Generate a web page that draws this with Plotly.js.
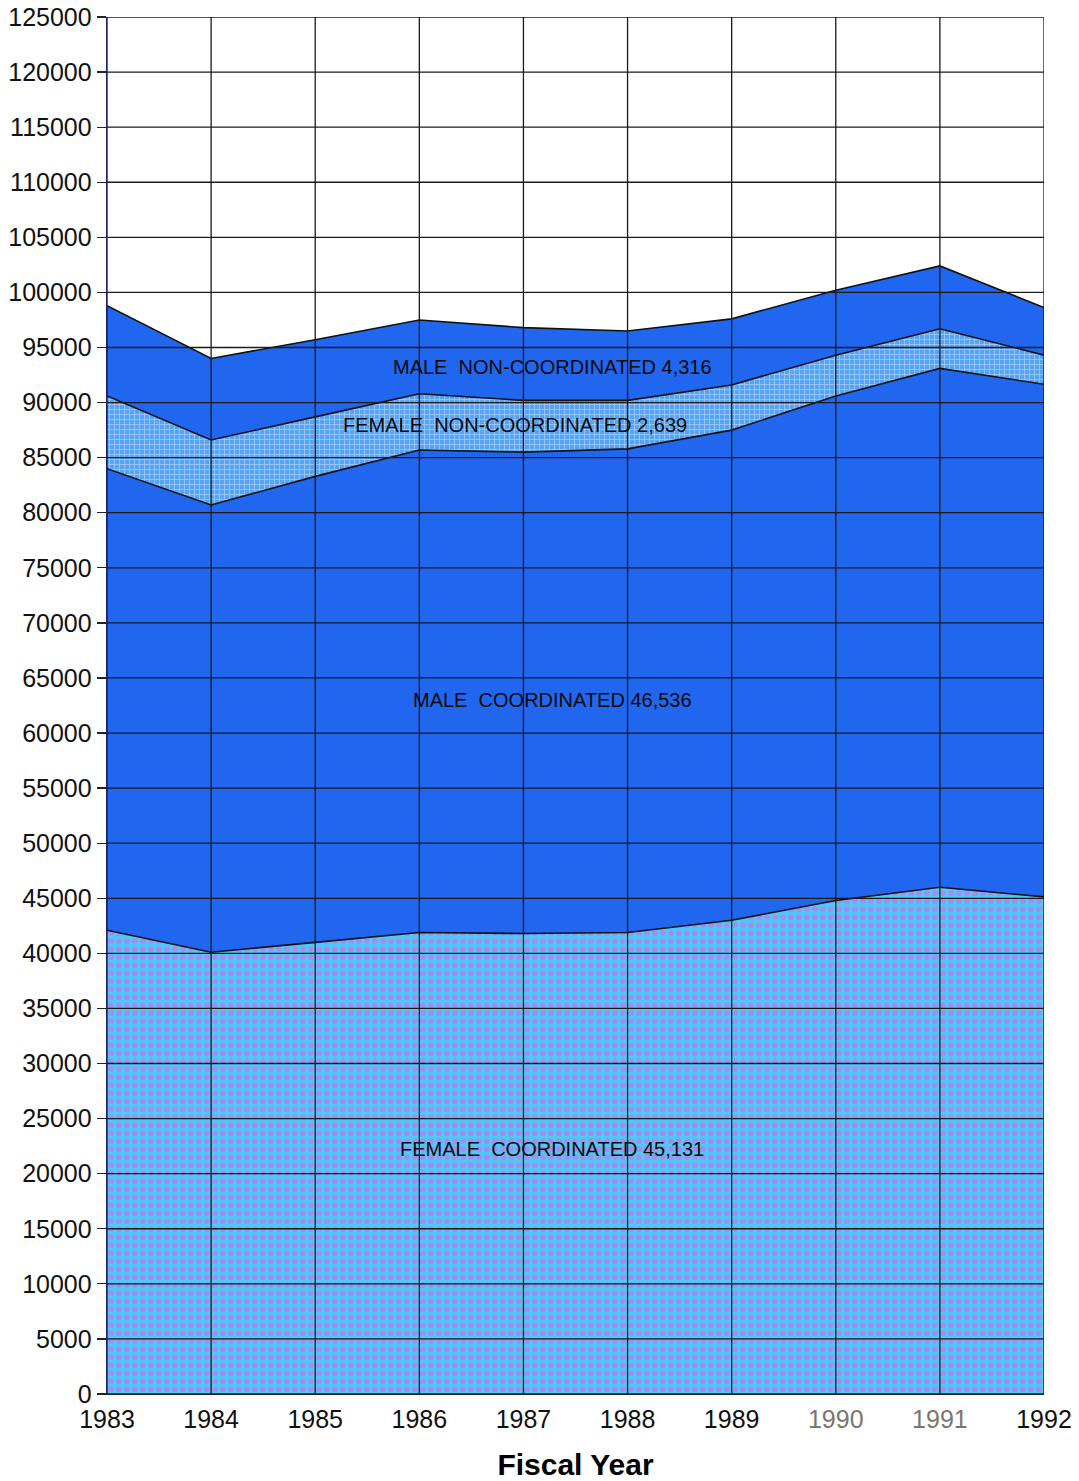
<!DOCTYPE html>
<html>
<head>
<meta charset="utf-8">
<script src="https://cdn.plot.ly/plotly-3.0.1.min.js"></script>
<style>
  html, body { margin: 0; padding: 0; background: #ffffff; }
  #chart { width: 1079px; height: 1481px; }
</style>
</head>
<body>
<div id="chart"></div>
<script>
// Enrollment by fiscal year, stacked by group
const years = [1983, 1984, 1985, 1986, 1987, 1988, 1989, 1990, 1991, 1992];
const femaleCoord    = [42100, 40100, 41000, 41900, 41800, 41900, 43000, 44800, 46000, 45131];
const maleCoord      = [41900, 40600, 42300, 43800, 43700, 43900, 44500, 45800, 47100, 46536];
const femaleNonCoord = [6600, 5900, 5400, 5100, 4700, 4400, 4100, 3700, 3600, 2639];
const maleNonCoord   = [8200, 7400, 7000, 6700, 6600, 6300, 6000, 5900, 5700, 4316];

const yTicks = [];
for (let v = 0; v <= 125000; v += 5000) yTicks.push(v);
const xTickText = years.map(y => (y === 1990 || y === 1991)
  ? '<span style="color:#7a7670">' + y + '</span>' : String(y));

const FONT = 'Liberation Sans, Arial, Helvetica, sans-serif';
const DARK = '#2166ef';
const edge = { color: '#111111', width: 1.6 };
const fmt = v => v.toLocaleString('en-US');
const last = years.length - 1;

const traces = [
  {
    name: 'FEMALE COORDINATED', x: years, y: femaleCoord,
    type: 'scatter', mode: 'lines', stackgroup: 'one', line: edge,
    fillcolor: '#4ec9f8',
    fillpattern: { shape: '.', bgcolor: '#4ec9f8', fgcolor: '#a48cf0', size: 8, solidity: 0.4 }
  },
  {
    name: 'MALE COORDINATED', x: years, y: maleCoord,
    type: 'scatter', mode: 'lines', stackgroup: 'one', line: edge,
    fillcolor: DARK
  },
  {
    name: 'FEMALE NON-COORDINATED', x: years, y: femaleNonCoord,
    type: 'scatter', mode: 'lines', stackgroup: 'one', line: edge,
    fillcolor: '#55a5f7',
    fillpattern: { shape: '+', bgcolor: '#55a5f7', fgcolor: '#a6c8fa', size: 5, solidity: 0.3 }
  },
  {
    name: 'MALE NON-COORDINATED', x: years, y: maleNonCoord,
    type: 'scatter', mode: 'lines', stackgroup: 'one', line: edge,
    fillcolor: DARK
  }
];

// Grid drawn on top of the filled areas
const gridShapes = [];
yTicks.forEach(v => gridShapes.push({
  type: 'line', layer: 'above', xref: 'paper', yref: 'y',
  x0: 0, x1: 1, y0: v, y1: v, line: { color: '#1a1a1a', width: 1.3 }
}));
years.forEach(yr => gridShapes.push({
  type: 'line', layer: 'above', xref: 'x', yref: 'paper',
  x0: yr, x1: yr, y0: 0, y1: 1, line: { color: '#1a1a1a', width: 1.3 }
}));

const labelFont = { family: FONT, size: 20, color: '#0a0a0a' };
const annotations = [
  { text: 'MALE\u00a0\u00a0NON-COORDINATED ' + fmt(maleNonCoord[last]), x: 1987.28, y: 93250 },
  { text: 'FEMALE\u00a0\u00a0NON-COORDINATED ' + fmt(femaleNonCoord[last]), x: 1986.92, y: 87950 },
  { text: 'MALE\u00a0\u00a0COORDINATED ' + fmt(maleCoord[last]), x: 1987.28, y: 63000 },
  { text: 'FEMALE\u00a0\u00a0COORDINATED ' + fmt(femaleCoord[last]), x: 1987.27, y: 22250 }
].map(a => Object.assign({ xref: 'x', yref: 'y', showarrow: false, font: labelFont,
  xanchor: 'center', yanchor: 'middle' }, a));

const layout = {
  width: 1079, height: 1481,
  margin: { l: 107, r: 35, t: 17, b: 87 },
  paper_bgcolor: '#ffffff', plot_bgcolor: '#ffffff',
  showlegend: false,
  font: { family: FONT, color: '#111111' },
  xaxis: {
    range: [1983, 1992], tickvals: years, ticktext: xTickText,
    showgrid: false, zeroline: false,
    showline: true, linecolor: '#222222', linewidth: 1.3,
    ticks: 'outside', ticklen: 3, tickcolor: 'rgba(0,0,0,0)',
    tickfont: { family: FONT, size: 25, color: '#111111' },
    title: { text: '<b>Fiscal Year</b>', font: { family: FONT, size: 30, color: '#000000' }, standoff: 21 }
  },
  yaxis: {
    range: [0, 125000], tickvals: yTicks, ticktext: yTicks.map(String),
    showgrid: false, zeroline: false,
    showline: true, linecolor: '#222266', linewidth: 1.3,
    ticks: 'outside', ticklen: 9, tickcolor: '#222222', tickwidth: 1.3,
    tickfont: { family: FONT, size: 25, color: '#111111' }
  },
  shapes: gridShapes,
  annotations: annotations
};

Plotly.newPlot('chart', traces, layout, { staticPlot: true, displayModeBar: false });
</script>
</body>
</html>
